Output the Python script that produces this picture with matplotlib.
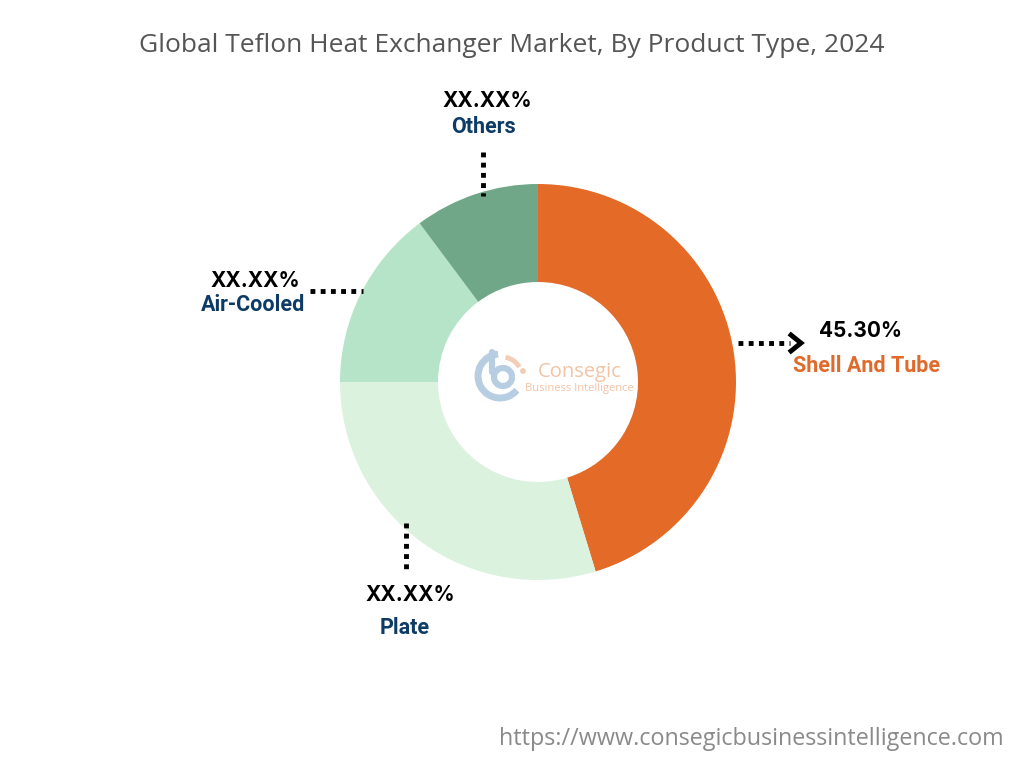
import matplotlib
matplotlib.use('Agg')
import matplotlib.pyplot as plt
from matplotlib.patches import Arc, Circle

# Data
segments = ['Shell And Tube', 'Plate', 'Air-Cooled', 'Others']
shares = [45.30, 29.70, 14.80, 10.20]
value_labels = ['45.30%', 'XX.XX%', 'XX.XX%', 'XX.XX%']
colors = ['#E46A27', '#DBF2DE', '#B6E4C9', '#6FA788']

W, H = 1024, 768
fig = plt.figure(figsize=(W / 100, H / 100), dpi=100)
ax = fig.add_axes([0, 0, 1, 1])
ax.set_xlim(0, W)
ax.set_ylim(0, H)
ax.set_aspect('equal')
ax.axis('off')

def py(y):
    # convert pixel y (top-down) to data y
    return H - y

cx, cy, r = 538, 382, 198
ax.pie(shares, colors=colors, startangle=90, counterclock=False,
       center=(cx, py(cy)), radius=r,
       wedgeprops=dict(width=r - 100, edgecolor='none'))
ax.set_xlim(0, W)
ax.set_ylim(0, H)

# title and footer
ax.text(512, py(45), 'Global Teflon Heat Exchanger Market, By Product Type, 2024',
        ha='center', va='center', fontsize=19, color='#555555', family='Open Sans')
ax.text(751, py(739), 'https://www.consegicbusinessintelligence.com',
        ha='center', va='center', fontsize=16.8, color='#8a8a8a', family='Open Sans')

# leader lines
dot = dict(color='black', lw=3.5, linestyle=(0, (1, 1.1)), solid_capstyle='butt')
ax.plot([738, 790], [py(343), py(343)], **dot)
ax.plot([791, 801, 791], [py(335), py(343), py(351)], color='black', lw=3.5,
        solid_joinstyle='miter')
ax.plot([310, 363], [py(291), py(291)], **dot)
ax.plot([483, 483], [py(152), py(196)], **dot)
ax.plot([406, 406], [py(523), py(569)], **dot)

navy = '#0D3B66'
val_kw = dict(ha='center', va='center', fontsize=15, color='black',
              fontweight='bold', family='Inter')
lab_kw = dict(ha='center', va='center', fontsize=15.5, color=navy,
              fontweight='bold', family='Roboto')

# Shell And Tube
ax.text(860, py(331), value_labels[0], **val_kw)
ax.text(867, py(366), segments[0], **dict(lab_kw, color='#E06A2C'))
# Plate
ax.text(410, py(595), value_labels[1], **val_kw)
ax.text(405, py(628), segments[1], **lab_kw)
# Air-Cooled
ax.text(255, py(281), value_labels[2], **val_kw)
ax.text(253, py(305), segments[2], **lab_kw)
# Others
ax.text(487, py(101), value_labels[3], **val_kw)
ax.text(483, py(127), segments[3], **lab_kw)

# faint logo in the hole
blue = '#b7cde2'
ax.add_patch(Arc((500, py(376)), 44, 44, theta1=95, theta2=320, lw=5, color=blue))
ax.add_patch(Arc((503, py(377)), 18, 18, theta1=0, theta2=360, lw=4.5, color=blue))
ax.plot([492, 492], [py(352), py(372)], color=blue, lw=4.5, solid_capstyle='round')
ax.add_patch(Arc((502, py(377)), 40, 40, theta1=30, theta2=80, lw=3.5, color='#f3cdb6'))
ax.add_patch(Circle((523, py(371)), 2.2, color='#f3cdb6'))
ax.text(538, py(372), 'Consegic', ha='left', va='center', fontsize=14.5,
        color='#f2c3a5', family='Open Sans')
ax.text(525, py(389), 'Business Intelligence', ha='left', va='center',
        fontsize=8, color='#f2c3a5', family='Open Sans')

fig.savefig('out.png', dpi=100, facecolor='white')
